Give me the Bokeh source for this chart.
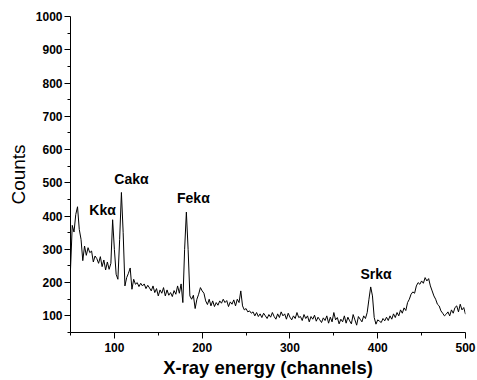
from bokeh.plotting import figure
from bokeh.models import FixedTicker, Range1d, ColumnDataSource
from bokeh.core.properties import value
from bokeh.embed import file_html
from bokeh.resources import INLINE

channels = list(range(50, 501, 2))
counts = [
    240, 372, 352, 405, 428, 360, 330, 266, 310, 282,
    305, 290, 295, 262, 280, 272, 258, 278, 248, 268,
    238, 262, 240, 258, 389, 300, 225, 210, 330, 471,
    350, 190, 215, 228, 244, 180, 210, 195, 200, 188,
    198, 190, 196, 182, 192, 184, 175, 190, 170, 182,
    160, 178, 168, 185, 160, 178, 162, 170, 158, 176,
    165, 190, 168, 196, 140, 300, 412, 300, 160, 150,
    162, 122, 150, 165, 185, 175, 168, 145, 134, 150,
    130, 145, 128, 140, 132, 145, 138, 150, 140, 146,
    128, 142, 135, 148, 130, 150, 140, 175, 130, 118,
    122, 112, 115, 108, 112, 100, 110, 98, 106, 95,
    108, 100, 92, 104, 96, 110, 98, 90, 106, 95,
    112, 100, 106, 90, 108, 96, 88, 100, 92, 110,
    95, 98, 86, 104, 92, 100, 82, 98, 90, 102,
    84, 96, 88, 80, 94, 86, 100, 78, 96, 82,
    110, 88, 95, 76, 90, 82, 100, 78, 96, 85,
    76, 104, 88, 72, 98, 90, 82, 100, 92, 110,
    150, 187, 160, 95, 75, 88, 84, 80, 92, 85,
    96, 86, 100, 90, 106, 95, 110, 100, 118, 108,
    124, 116, 140, 150, 165, 172, 168, 190, 200, 195,
    205, 198, 215, 205, 212, 190, 175, 160, 150, 135,
    130, 115, 108, 100, 105, 112, 100, 118, 108, 125,
    130, 112, 135, 118, 125, 105,
]
assert len(counts) == len(channels)

peak_labels = ["Kk\u03b1", "Cak\u03b1", "Fek\u03b1", "Srk\u03b1"]
peak_x = [86.5, 119.5, 190, 398]
peak_y = [419, 511, 454, 227]

x_ticks = [100, 200, 300, 400, 500]
x_minor = [50, 150, 250, 350, 450]
y_ticks = list(range(100, 1001, 100))
y_minor = list(range(50, 1000, 100))

FONT = "Liberation Sans"

p = figure(width=477, height=380, x_range=Range1d(50, 500), y_range=Range1d(50, 1000),
           output_backend="svg", toolbar_location=None,
           min_border_left=70, min_border_top=16, min_border_right=12, min_border_bottom=47)
p.outline_line_color = None
p.xgrid.visible = False
p.ygrid.visible = False
p.background_fill_color = "white"
p.border_fill_color = "white"

p.line(channels, counts, line_color="black", line_width=1)

src = ColumnDataSource(dict(x=peak_x, y=peak_y, t=peak_labels))
p.text(x="x", y="y", text="t", source=src, text_align="center", text_baseline="middle",
       text_font=value(FONT), text_font_size="14px", text_font_style="bold", text_color="black")

p.xaxis.ticker = FixedTicker(ticks=x_ticks, minor_ticks=x_minor)
p.yaxis.ticker = FixedTicker(ticks=y_ticks, minor_ticks=y_minor)

for ax in (p.xaxis[0], p.yaxis[0]):
    ax.axis_line_color = "black"
    ax.axis_line_width = 1
    ax.major_tick_line_color = "black"
    ax.minor_tick_line_color = "black"
    ax.major_tick_in = 0
    ax.major_tick_out = 6
    ax.minor_tick_in = 0
    ax.minor_tick_out = 3
    ax.major_label_text_font = FONT
    ax.major_label_text_font_style = "bold"
    ax.major_label_text_font_size = "12px"
    ax.major_label_text_color = "black"
    ax.axis_label_text_font = FONT
    ax.axis_label_text_color = "black"

p.xaxis.major_label_standoff = 4
p.yaxis.major_label_standoff = 2
p.xaxis.axis_label = "X-ray energy (channels)"
p.xaxis.axis_label_text_font_size = "18.5px"
p.xaxis.axis_label_text_font_style = "bold"
p.xaxis.axis_label_standoff = 2
p.yaxis.axis_label = "Counts"
p.yaxis.axis_label_text_font_size = "19px"
p.yaxis.axis_label_text_font_style = "normal"
p.yaxis.axis_label_standoff = 4

open("out.html", "w").write(file_html(p, INLINE))
